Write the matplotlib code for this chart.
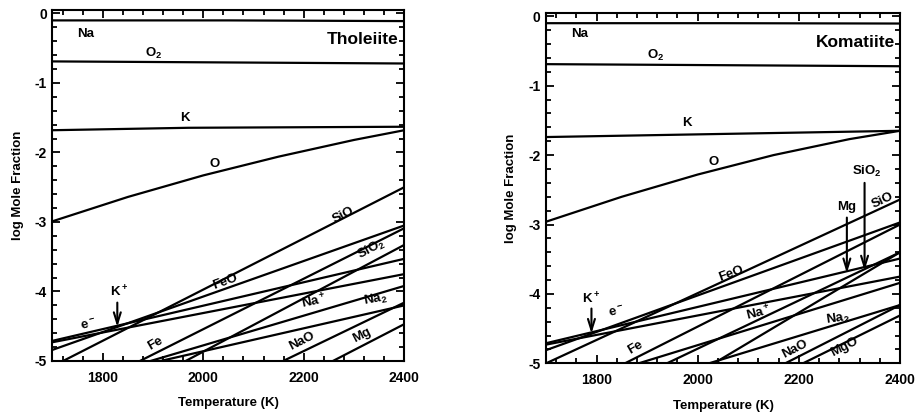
import matplotlib
matplotlib.use('Agg')
import matplotlib.pyplot as plt
from matplotlib.ticker import MultipleLocator

plt.rcParams['font.family'] = 'Liberation Sans'
plt.rcParams['font.weight'] = 'bold'
plt.rcParams['axes.unicode_minus'] = False
plt.rcParams['mathtext.fontset'] = 'custom'
plt.rcParams['mathtext.rm'] = 'Liberation Sans:bold'
plt.rcParams['mathtext.it'] = 'Liberation Sans:bold'
plt.rcParams['mathtext.bf'] = 'Liberation Sans:bold'

# ---- Tholeiite: temperature (K) and log mole fraction ----
th_Na_T = [1700, 2050, 2400];  th_Na = [-0.10, -0.10, -0.11]
th_O2_T = [1700, 2400];        th_O2 = [-0.69, -0.72]
th_K_T = [1700, 1970, 2400];   th_K = [-1.68, -1.645, -1.63]
th_O_T = [1700, 1850, 2000, 2150, 2300, 2400]
th_O = [-2.99, -2.64, -2.33, -2.06, -1.82, -1.68]
th_SiO_T = [1721, 2400];   th_SiO = [-5.0, -2.50]
th_Fe_T = [1874, 2400];    th_Fe = [-5.0, -3.09]
th_FeO_T = [1700, 2400];   th_FeO = [-4.84, -3.05]
th_SiO2_T = [1965, 2400];  th_SiO2 = [-5.0, -3.33]
th_e_T = [1700, 2400];     th_e = [-4.71, -3.53]
th_Kp_T = [1700, 2400];    th_Kp = [-4.73, -3.75]
th_Nap_T = [1895, 2400];   th_Nap = [-5.0, -3.92]
th_Na2_T = [1915, 2400];   th_Na2 = [-5.0, -4.20]
th_NaO_T = [2159, 2400];   th_NaO = [-5.0, -4.16]
th_Mg_T = [2258, 2400];    th_Mg = [-5.0, -4.47]

# ---- Komatiite ----
ko_Na_T = [1700, 2050, 2400];  ko_Na = [-0.10, -0.10, -0.105]
ko_O2_T = [1700, 2400];        ko_O2 = [-0.69, -0.72]
ko_K_T = [1700, 2400];         ko_K = [-1.74, -1.65]
ko_O_T = [1700, 1850, 2000, 2150, 2300, 2400]
ko_O = [-2.96, -2.60, -2.28, -2.00, -1.77, -1.65]
ko_SiO_T = [1700, 2400];   ko_SiO = [-5.0, -2.64]
ko_Fe_T = [1856, 2400];    ko_Fe = [-5.0, -3.00]
ko_FeO_T = [1700, 2400];   ko_FeO = [-4.81, -2.97]
ko_Mg_T = [1939, 2400];    ko_Mg = [-5.0, -3.40]
ko_SiO2_T = [2032, 2400];  ko_SiO2 = [-5.0, -3.40]
ko_e_T = [1700, 2400];     ko_e = [-4.71, -3.49]
ko_Kp_T = [1700, 2400];    ko_Kp = [-4.73, -3.75]
ko_Nap_T = [1883, 2400];   ko_Nap = [-5.0, -3.84]
ko_Na2_T = [2022, 2400];   ko_Na2 = [-5.0, -4.16]
ko_NaO_T = [2173, 2400];   ko_NaO = [-5.0, -4.16]
ko_MgO_T = [2208, 2400];   ko_MgO = [-5.0, -4.31]


def style(ax, name):
    ax.set_xlim(1700, 2400)
    ax.set_ylim(-5, 0.05)
    ax.set_xticks([1800, 2000, 2200, 2400])
    ax.xaxis.set_minor_locator(MultipleLocator(40))
    ax.set_yticks([-5, -4, -3, -2, -1, 0])
    ax.yaxis.set_minor_locator(MultipleLocator(0.2))
    ax.tick_params(which='both', direction='in', top=True, right=True,
                   width=1.3, labelsize=10)
    ax.tick_params(which='major', length=6)
    ax.tick_params(which='minor', length=3.5)
    ax.tick_params(axis='x', pad=7)
    ax.tick_params(axis='y', pad=4)
    for s in ax.spines.values():
        s.set_linewidth(1.5)
    ax.set_xlabel('Temperature (K)', fontsize=9.5, fontweight='bold', labelpad=9)
    ax.set_ylabel('log Mole Fraction', fontsize=9.5, fontweight='bold', labelpad=8)
    ax.text(0.985, 0.915, name, transform=ax.transAxes, ha='right', va='center',
            fontsize=12.5, fontweight='bold')


def lines(ax, series):
    for T, y in series:
        ax.plot(T, y, color='k', lw=1.6, solid_capstyle='butt')


def label(ax, s, T, y, rot=0):
    ax.text(T, y, s, ha='center', va='center', rotation=rot, fontsize=9.5,
            fontweight='bold', rotation_mode='anchor')


def arrow(ax, T, y0, y1):
    ax.annotate('', xy=(T, y1), xytext=(T, y0),
                arrowprops=dict(arrowstyle='->,head_length=0.8,head_width=0.25',
                                lw=1.5, color='k'))


fig = plt.figure(figsize=(9.16, 4.12), dpi=100)
ax1 = fig.add_axes([0.0573, 0.1238, 0.384, 0.852])
ax2 = fig.add_axes([0.596, 0.118, 0.3865, 0.851])

lines(ax1, [(th_Na_T, th_Na), (th_O2_T, th_O2), (th_K_T, th_K), (th_O_T, th_O),
            (th_SiO_T, th_SiO), (th_Fe_T, th_Fe), (th_FeO_T, th_FeO),
            (th_SiO2_T, th_SiO2), (th_e_T, th_e), (th_Kp_T, th_Kp),
            (th_Nap_T, th_Nap), (th_Na2_T, th_Na2), (th_NaO_T, th_NaO),
            (th_Mg_T, th_Mg)])
style(ax1, 'Tholeiite')
label(ax1, 'Na', 1765, -0.29)
label(ax1, 'O$_2$', 1901, -0.57)
label(ax1, 'K', 1964, -1.51)
label(ax1, 'O', 2023, -2.16)
label(ax1, 'SiO', 2279, -2.90, 27)
label(ax1, 'SiO$_2$', 2335, -3.40, 28)
label(ax1, 'FeO', 2043, -3.86, 20)
label(ax1, 'K$^+$', 1832, -4.00)
arrow(ax1, 1829, -4.12, -4.55)
label(ax1, 'e$^-$', 1771, -4.48, 14)
label(ax1, 'Fe', 1904, -4.75, 30)
label(ax1, 'Na$^+$', 2220, -4.15, 12)
label(ax1, 'Na$_2$', 2342, -4.12, 10)
label(ax1, 'NaO', 2196, -4.72, 27)
label(ax1, 'Mg', 2315, -4.63, 27)

lines(ax2, [(ko_Na_T, ko_Na), (ko_O2_T, ko_O2), (ko_K_T, ko_K), (ko_O_T, ko_O),
            (ko_SiO_T, ko_SiO), (ko_Fe_T, ko_Fe), (ko_FeO_T, ko_FeO),
            (ko_Mg_T, ko_Mg), (ko_SiO2_T, ko_SiO2), (ko_e_T, ko_e),
            (ko_Kp_T, ko_Kp), (ko_Nap_T, ko_Nap), (ko_Na2_T, ko_Na2),
            (ko_NaO_T, ko_NaO), (ko_MgO_T, ko_MgO)])
style(ax2, 'Komatiite')
label(ax2, 'Na', 1767, -0.25)
label(ax2, 'O$_2$', 1916, -0.56)
label(ax2, 'K', 1978, -1.54)
label(ax2, 'O', 2031, -2.10)
label(ax2, 'SiO$_2$', 2334, -2.24)
arrow(ax2, 2330, -2.36, -3.70)
label(ax2, 'Mg', 2295, -2.75)
arrow(ax2, 2295, -2.86, -3.74)
label(ax2, 'SiO', 2366, -2.65, 25)
label(ax2, 'FeO', 2067, -3.71, 20)
label(ax2, 'K$^+$', 1790, -4.07)
arrow(ax2, 1790, -4.17, -4.61)
label(ax2, 'e$^-$', 1840, -4.26, 14)
label(ax2, 'Fe', 1876, -4.77, 30)
label(ax2, 'Na$^+$', 2120, -4.28, 14)
label(ax2, 'Na$_2$', 2278, -4.36, 8)
label(ax2, 'NaO', 2192, -4.79, 27)
label(ax2, 'MgO', 2291, -4.76, 27)

fig.savefig('out.png', dpi=100)
